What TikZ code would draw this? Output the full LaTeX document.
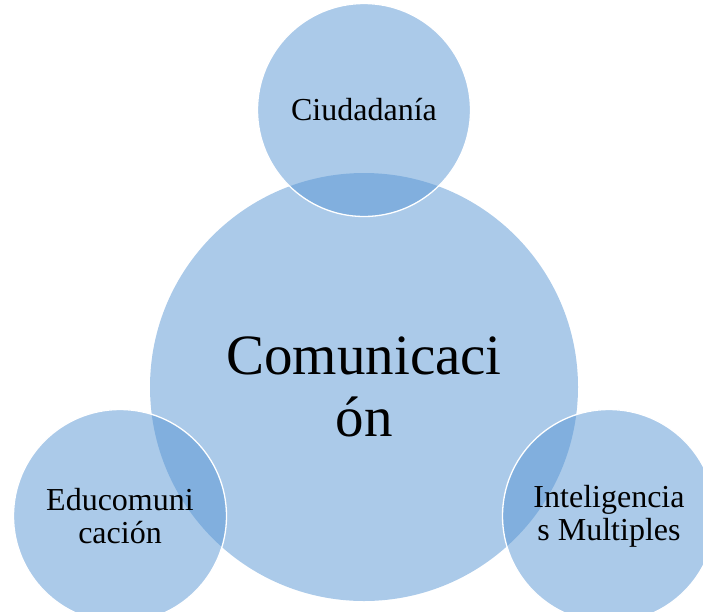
\documentclass[tikz,border=0pt]{standalone}
\usepackage{fontspec}
\setmainfont{Liberation Serif}
\usepackage{tikz}
\usetikzlibrary{positioning}
\definecolor{circblue}{RGB}{87,149,211}
\tikzset {
    bubble/.style = {
        shape = circle,
        fill = circblue,
        fill opacity = 0.5,
        text opacity = 1,
        text = black,
        inner sep = 0pt,
        align = center
    },
    center bubble/.style = {
        bubble,
        minimum size = 428pt,
        font = {\fontsize{57}{62}\selectfont} % big title in the middle
    },
    side bubble/.style = {
        bubble,
        draw = white,
        draw opacity = 1,
        line width = 1.3pt,
        minimum size = 213pt,
        font = {\fontsize{32}{33}\selectfont}
    }
}

\begin{document}
\begin{tikzpicture}[x=1pt, y=-1pt, on grid]
        % Frame of the picture, cuts the circles at the border
        \path [use as bounding box, clip] (0, 0) rectangle (703, 611);

        % Center circle
        \node [center bubble] at (364, 387)                       (comm)   {Comunicaci\\ón};

        % Side circles around the center one
        \node [side bubble, above=277pt of comm]                  (ciud)   {Ciudadanía};
        \node [side bubble, below left=129pt and 244pt of comm]   (educ)   {Educomuni\\cación};
        \node [side bubble, below right=129pt and 245pt of comm]  (intel)  {Inteligencia\\s Multiples};
\end{tikzpicture}
\end{document}
